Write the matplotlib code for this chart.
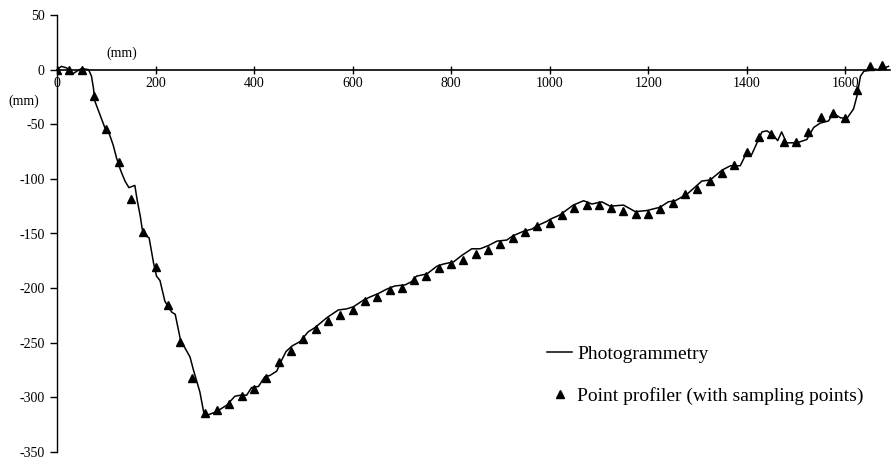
import matplotlib
matplotlib.use("Agg")
import matplotlib.pyplot as plt

plt.rcParams['font.family'] = ['Liberation Serif', 'DejaVu Serif']
plt.rcParams['axes.unicode_minus'] = False

# photogrammetry profile (mm)
photo_x = [0, 9, 20, 30, 40, 50, 64, 70, 74, 77, 87, 97, 104, 114, 121, 129, 138, 146,
           158, 163, 169, 173, 177, 187, 196, 202, 209, 219, 226, 233, 240, 250, 260,
           270, 277, 290, 298, 307, 324, 345, 361, 372, 385, 395, 409, 422, 432, 446,
           456, 465, 477, 493, 510, 524, 548, 571, 588, 602, 622, 636, 652, 669, 686,
           707, 720, 730, 751, 771, 784, 805, 822, 842, 859, 876, 893, 913, 926, 947,
           964, 974, 994, 1001, 1021, 1048, 1069, 1086, 1106, 1123, 1150, 1174, 1197,
           1224, 1241, 1255, 1279, 1309, 1326, 1350, 1367, 1387, 1400, 1410, 1421, 1431,
           1441, 1454, 1463, 1471, 1481, 1502, 1522, 1536, 1549, 1566, 1576, 1590, 1603,
           1617, 1624, 1631, 1638, 1651, 1662, 1668, 1679, 1688]
photo_y = [0, 3, 1.5, -4.5, -1.5, 1, 0, -6, -17, -29, -41, -53, -56, -69, -81, -92, -102, -108,
           -106, -120, -134, -146, -151, -154, -177, -189, -193, -212, -217, -222, -224, -246, -255,
           -263, -275, -295, -314, -316, -313, -307, -299, -298, -298, -291, -290, -281, -280, -276,
           -266, -258, -253, -249, -240, -236, -227, -220, -219, -217, -211, -208, -205, -201, -198,
           -197, -194, -189, -187, -180, -178, -176, -170, -164, -164, -161, -157, -156, -152, -148,
           -146, -143, -139, -137, -133, -124, -120, -123, -121, -125, -124, -130, -129,
           -126, -121, -120, -114, -102, -101, -92, -88, -88, -76, -78, -67, -57,
           -56, -60, -65, -57, -67, -67, -64, -53, -49, -47, -40, -44, -45,
           -36, -24, -6, -1.5, -0.5, 0.5, -0.5, 1.5, 3]

# point profiler sampling points (mm)
prof_x = [0, 25, 50, 75, 100, 125, 150, 175, 200, 225, 250, 275, 300, 325, 350, 375, 400,
          425, 450, 475, 500, 525, 550, 575, 600, 625, 650, 675, 700, 725, 750, 775, 800,
          825, 850, 875, 900, 925, 950, 975, 1000, 1025, 1050, 1075, 1100, 1125, 1150, 1175,
          1200, 1225, 1250, 1275, 1300, 1325, 1350, 1375, 1400, 1425, 1450, 1475, 1500, 1525,
          1550, 1575, 1600, 1625, 1650, 1675]
prof_y = [0, 0, 0, -24, -54, -85, -118, -149, -181, -215, -249, -282, -314, -312, -306, -299, -292,
          -282, -268, -258, -247, -237, -230, -225, -220, -212, -208, -202, -200, -193, -189, -182, -178,
          -174, -169, -165, -160, -154, -149, -143, -140, -133, -127, -124, -124, -127, -129, -132,
          -132, -128, -122, -114, -109, -102, -95, -87, -75, -62, -59, -66, -66, -57,
          -43, -40, -44, -19, 3, 4]

fig = plt.figure(figsize=(8.91, 4.61), dpi=100)
ax = fig.add_axes([57/891, 9/461, 833/891, 437/461])

ax.plot(photo_x, photo_y, color='black', lw=1.1, label='Photogrammetry')
ax.plot(prof_x, prof_y, linestyle='none', marker='^', color='black', ms=6,
        label='Point profiler (with sampling points)')

ax.set_xlim(0, 1691)
ax.set_ylim(-350, 50)
ax.set_xticks([0, 200, 400, 600, 800, 1000, 1200, 1400, 1600])
ax.set_yticks([50, 0, -50, -100, -150, -200, -250, -300, -350])

ax.spines['top'].set_visible(False)
ax.spines['right'].set_visible(False)
ax.spines['bottom'].set_position(('data', 0))
ax.spines['bottom'].set_linewidth(1.2)
ax.spines['left'].set_linewidth(1.0)
ax.tick_params(axis='x', direction='inout', length=6, width=1, labelsize=10, pad=2)
ax.tick_params(axis='y', direction='out', length=5, width=1, labelsize=10, pad=4)

ax.text(131, 15, '(mm)', fontsize=10, ha='center', va='center')
ax.text(-67, -29, '(mm)', fontsize=10, ha='center', va='center', clip_on=False)

ax.legend(loc='upper left', bbox_to_anchor=(547/891, 1 - 345/461), bbox_transform=fig.transFigure,
          frameon=False, fontsize=14, handlelength=1.3, handletextpad=0.26,
          labelspacing=1.26, markerscale=0.9, borderaxespad=0, borderpad=0)

fig.savefig('out.png', dpi=100)
